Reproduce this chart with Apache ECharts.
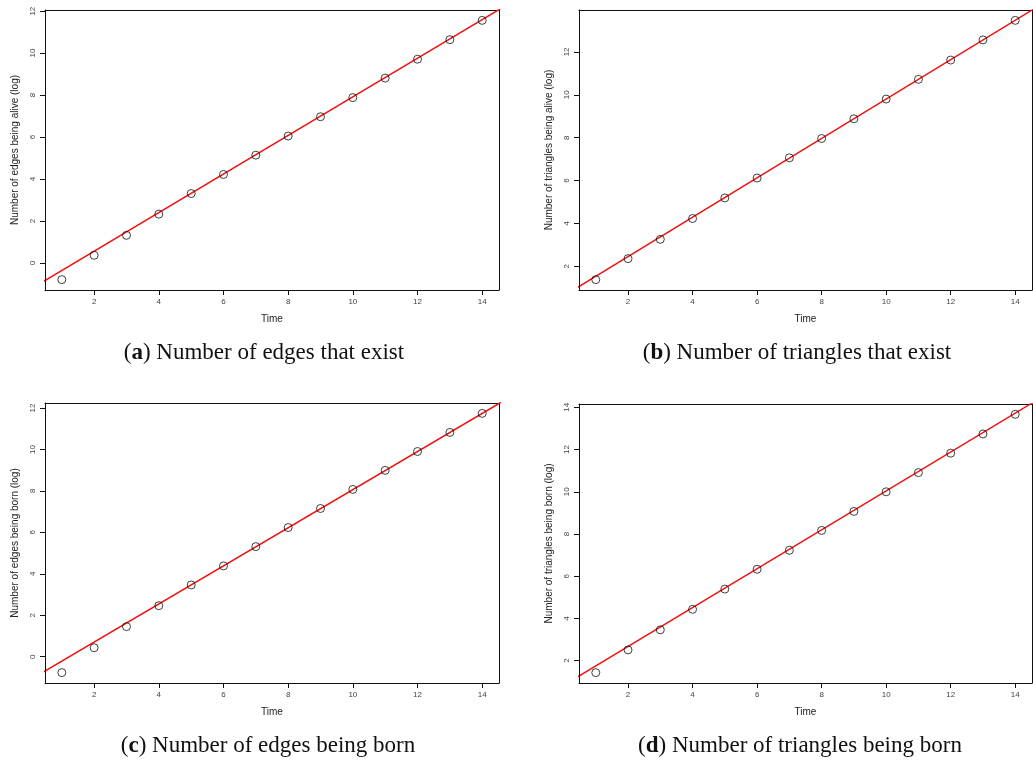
<!DOCTYPE html>
<html>
<head>
<meta charset="utf-8">
<title>Number of edges / triangles (log) over time</title>
<script src="https://cdn.jsdelivr.net/npm/echarts@6/dist/echarts.min.js"></script>
<style>
  html, body { margin: 0; padding: 0; background: #fff; }
  #chart { width: 1033px; height: 762px; }
</style>
</head>
<body>
<div id="chart"></div>
<script>
// time steps (x) shared by all four panels
const time = [1, 2, 3, 4, 5, 6, 7, 8, 9, 10, 11, 12, 13, 14]

// log counts
const edgesAlive = [-0.79, 0.37, 1.32, 2.33, 3.31, 4.22, 5.14, 6.05, 6.97, 7.88, 8.81, 9.71, 10.64, 11.56]
const trianglesAlive = [1.38, 2.36, 3.26, 4.23, 5.19, 6.12, 7.06, 7.96, 8.88, 9.80, 10.72, 11.62, 12.56, 13.47]
const edgesBorn = [-0.77, 0.43, 1.45, 2.46, 3.46, 4.38, 5.31, 6.23, 7.15, 8.07, 8.99, 9.90, 10.82, 11.74]
const trianglesBorn = [1.43, 2.51, 3.46, 4.43, 5.39, 6.33, 7.23, 8.17, 9.07, 10.00, 10.91, 11.83, 12.74, 13.67]

// fitted lines (intercept, slope) per panel
const fitIntercept = [-1.27, 0.62, -1.14, 0.83]
const fitSlope = [0.919, 0.918, 0.920, 0.921]

// tick labels
const xTicks = [2, 4, 6, 8, 10, 12, 14]
const yTicksEdges = [0, 2, 4, 6, 8, 10, 12]
const yTicksTriAlive = [2, 4, 6, 8, 10, 12]
const yTicksTriBorn = [2, 4, 6, 8, 10, 12, 14]

const yNames = [
  'Number of edges being alive (log)',
  'Number of triangles being alive (log)',
  'Number of edges being born (log)',
  'Number of triangles being born (log)'
]
const captionLetters = ['a', 'b', 'c', 'd']
const captionTexts = [
  'Number of edges that exist',
  'Number of triangles that exist',
  'Number of edges being born',
  'Number of triangles being born'
]

const panels = [
  { values: edgesAlive, yTicks: yTicksEdges, grid: { left: 45, top: 10, width: 454, height: 280 }, capX: 264, capY: 353 },
  { values: trianglesAlive, yTicks: yTicksTriAlive, grid: { left: 579, top: 10, width: 453, height: 280 }, capX: 797, capY: 353 },
  { values: edgesBorn, yTicks: yTicksEdges, grid: { left: 45, top: 403, width: 454, height: 280 }, capX: 268, capY: 746 },
  { values: trianglesBorn, yTicks: yTicksTriBorn, grid: { left: 579, top: 404, width: 453, height: 279 }, capX: 800, capY: 746 }
]

// R style axis limits: data range stretched by 4% each side
function rRange(arr) {
  const lo = Math.min(...arr)
  const hi = Math.max(...arr)
  const pad = (hi - lo) * 0.04
  return [lo - pad, hi + pad]
}

const xLim = rRange(time)
const tickFont = { fontFamily: 'Liberation Sans', fontSize: 8, color: '#444' }
const nameFont = { fontFamily: 'Liberation Sans', fontSize: 10, color: '#222' }
const boxLine = { show: true, onZero: false, lineStyle: { color: '#111', width: 1 } }
const TICK_LEN = 5

const grid = []
const xAxis = []
const yAxis = []
const series = []
const graphic = []

panels.forEach((p, i) => {
  const yLim = rRange(p.values)
  grid.push(Object.assign({ show: false }, p.grid))

  // bottom / left axes carry ticks and labels, top / right only close the box
  xAxis.push({
    type: 'value',
    gridIndex: i,
    position: 'bottom',
    min: xLim[0],
    max: xLim[1],
    name: 'Time',
    nameLocation: 'middle',
    nameGap: 24,
    nameTextStyle: nameFont,
    axisLine: boxLine,
    splitLine: { show: false },
    axisTick: { show: true, inside: false, length: TICK_LEN, customValues: xTicks, lineStyle: { color: '#111', width: 1 } },
    axisLabel: Object.assign({ customValues: xTicks, margin: 8 }, tickFont),
    z: 10
  })
  xAxis.push({
    type: 'value',
    gridIndex: i,
    position: 'top',
    min: xLim[0],
    max: xLim[1],
    axisLine: boxLine,
    splitLine: { show: false },
    axisTick: { show: false },
    axisLabel: { show: false }
  })
  yAxis.push({
    type: 'value',
    gridIndex: i,
    position: 'left',
    min: yLim[0],
    max: yLim[1],
    name: yNames[i],
    nameLocation: 'middle',
    nameGap: 25,
    nameTextStyle: nameFont,
    axisLine: boxLine,
    splitLine: { show: false },
    axisTick: { show: true, inside: false, length: TICK_LEN, customValues: p.yTicks, lineStyle: { color: '#111', width: 1 } },
    axisLabel: Object.assign({ customValues: p.yTicks, rotate: 90, margin: 8 }, tickFont),
    z: 10
  })
  yAxis.push({
    type: 'value',
    gridIndex: i,
    position: 'right',
    min: yLim[0],
    max: yLim[1],
    axisLine: boxLine,
    splitLine: { show: false },
    axisTick: { show: false },
    axisLabel: { show: false }
  })

  // fitted line, clipped to the plot box
  series.push({
    type: 'line',
    xAxisIndex: 2 * i,
    yAxisIndex: 2 * i,
    data: [
      [xLim[0] - 1, fitIntercept[i] + fitSlope[i] * (xLim[0] - 1)],
      [xLim[1] + 1, fitIntercept[i] + fitSlope[i] * (xLim[1] + 1)]
    ],
    showSymbol: false,
    clip: true,
    silent: true,
    lineStyle: { color: '#f01010', width: 1.5 },
    z: 3
  })
  series.push({
    type: 'scatter',
    xAxisIndex: 2 * i,
    yAxisIndex: 2 * i,
    data: time.map((t, k) => [t, p.values[k]]),
    symbol: 'circle',
    symbolSize: 8,
    itemStyle: { color: 'rgba(255,255,255,0)', borderColor: '#111', borderWidth: 1 },
    z: 4
  })

  graphic.push({
    type: 'text',
    x: p.capX,
    y: p.capY,
    style: {
      text: '({b|' + captionLetters[i] + '}) ' + captionTexts[i],
      fontFamily: 'Liberation Serif',
      fontSize: 23,
      fill: '#111',
      align: 'center',
      verticalAlign: 'middle',
      rich: { b: { fontFamily: 'Liberation Serif', fontSize: 23, fontWeight: 'bold', fill: '#111' } }
    }
  })
})

const chart = echarts.init(document.getElementById('chart'), null, { renderer: 'canvas' })
chart.setOption({
  backgroundColor: '#fff',
  animation: false,
  grid: grid,
  xAxis: xAxis,
  yAxis: yAxis,
  series: series,
  graphic: graphic
})
</script>
</body>
</html>
